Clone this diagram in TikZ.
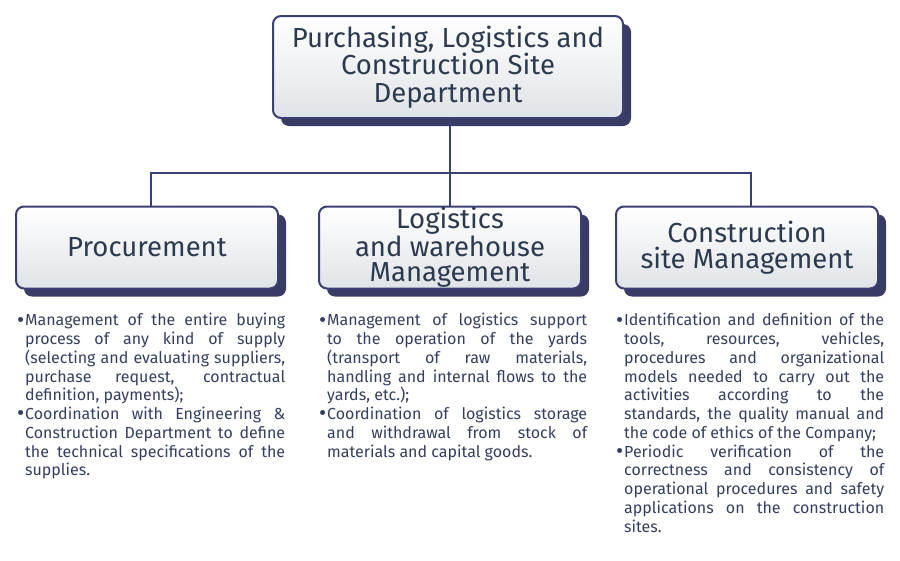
\documentclass[tikz,border=0pt]{standalone}
\usepackage{fontspec}
\setmainfont{Fira Sans}
\usetikzlibrary{shadows}
\definecolor{navy}{RGB}{58,64,115}
\definecolor{shadowcol}{RGB}{56,60,100}
\definecolor{headcol}{RGB}{44,58,80}
\definecolor{bodycol}{RGB}{52,62,96}
\definecolor{boxbottom}{RGB}{224,227,231}
\tikzset{
  deptbox/.style={draw=navy, line width=2pt, rounded corners=8pt,
    top color=white, bottom color=boxbottom,
    drop shadow={shadow xshift=8pt, shadow yshift=-8pt, fill=shadowcol, opacity=1},
    text=headcol, align=center, inner sep=0pt,
    font=\fontsize{27.5}{25.5}\selectfont},
  conn/.style={draw=navy, line width=2pt},
  bodytext/.style={anchor=north west, inner sep=0pt, text width=260pt, align=justify,
    text=bodycol, font=\fontsize{16}{18.75}\selectfont}
}
\newcommand{\bitem}{\par\noindent\llap{{\fontsize{22}{0}\selectfont\raisebox{-1.2pt}{•}}\hspace{1pt}}}
\begin{document}
\begin{tikzpicture}[x=1pt,y=-1pt]
\useasboundingbox (0,0) rectangle (900,560);
\node[deptbox, minimum width=350pt, minimum height=102pt, font=\fontsize{27.5}{27.5}\selectfont] (top) at (448,67)
  {Purchasing, Logistics and\\Construction Site\\Department};
\node[deptbox, minimum width=262pt, minimum height=82pt] (proc) at (147,247.5) {Procurement};
\node[deptbox, minimum width=262pt, minimum height=82pt] (logi) at (450,247.5) {Logistics\\and warehouse\\Management};
\node[deptbox, minimum width=262pt, minimum height=82pt] (cons) at (747,247.5) {Construction\\site Management};
\coordinate (jl) at (151,173);
\coordinate (jm) at (450,173);
\coordinate (jr) at (751,173);
\draw[conn] (top.south -| jm) -- (jm);
\draw[conn] (proc.north -| jl) -- (jl) -- (jr) -- (cons.north -| jr);
\draw[conn] (jm) -- (logi.north -| jm);

\node[bodytext] (tproc) at (25,307) {%
\bitem Management of the entire buying\linebreak
process of any kind of supply\linebreak
(selecting and evaluating suppliers,\linebreak
purchase request, contractual\linebreak
definition, payments);
\bitem Coordination with Engineering \&\linebreak
Construction Department to define\linebreak
the technical specifications of the\linebreak
supplies.\par};
\node[bodytext] (tlogi) at (327,307) {%
\bitem Management of logistics support\linebreak
to the operation of the yards\linebreak
(transport of raw materials,\linebreak
handling and internal flows to the\linebreak
yards, etc.);
\bitem Coordination of logistics storage\linebreak
and withdrawal from stock of\linebreak
materials and capital goods.\par};
\node[bodytext] (tcons) at (624,307) {%
\bitem Identification and definition of the\linebreak
tools, resources, vehicles,\linebreak
procedures and organizational\linebreak
models needed to carry out the\linebreak
activities according to the\linebreak
standards, the quality manual and\linebreak
the code of ethics of the Company;
\bitem Periodic verification of the\linebreak
correctness and consistency of\linebreak
operational procedures and safety\linebreak
applications on the construction\linebreak
sites.\par};
\end{tikzpicture}
\end{document}
